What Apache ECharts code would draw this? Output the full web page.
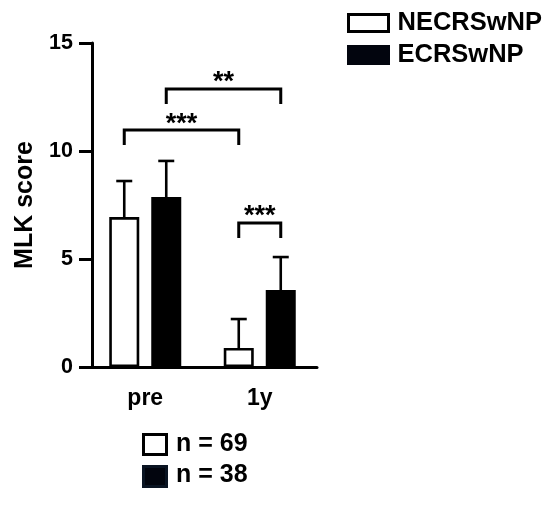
<!DOCTYPE html>
<html><head><meta charset="utf-8">
<script src="https://cdn.jsdelivr.net/npm/echarts@6/dist/echarts.min.js"></script>
<style>html,body{margin:0;padding:0;background:#fff}#c{width:550px;height:506px}</style>
</head><body><div id="c"></div>
<script>
const categories = ['pre', '1y'];
const seriesNames = ['NECRSwNP', 'ECRSwNP'];
const necrsMean = [6.94, 0.88];
const necrsUpper = [8.61, 2.22];
const ecrsMean = [7.87, 3.56];
const ecrsUpper = [9.54, 5.09];
const yTicks = [0, 5, 10, 15];
// significance brackets: [catA, seriesA, catB, seriesB, level, label]
const brackets = [
  [0, 1, 1, 1, 12.87, '**'],
  [0, 0, 1, 0, 10.97, '***'],
  [1, 0, 1, 1, 6.67, '***']
];
const nLabels = ['n = 69', 'n = 38'];

const FONT = '"Liberation Sans", Arial, sans-serif';
const OFF = 21;   // px offset of each bar from category centre
const LEG = 15;   // bracket leg length px

function errorSeries(mean, upper, idx) {
  return {
    type: 'custom', z: 5, silent: true,
    data: categories.map((c, i) => [i, mean[i], upper[i]]),
    encode: { x: 0, y: 2 },
    renderItem(params, api) {
      const i = api.value(0);
      const base = api.coord([i, api.value(1)]);
      const top = api.coord([i, api.value(2)]);
      const x = base[0] + (idx === 0 ? -OFF : OFF);
      const st = { stroke: '#000', lineWidth: 2.6 };
      return { type: 'group', children: [
        { type: 'line', shape: { x1: x, y1: base[1], x2: x, y2: top[1] }, style: st },
        { type: 'line', shape: { x1: x - 8, y1: top[1], x2: x + 8, y2: top[1] }, style: st }
      ]};
    }
  };
}

const chart = echarts.init(document.getElementById('c'), null, { renderer: 'canvas' });
chart.setOption({
  animation: false,
  backgroundColor: '#fff',
  grid: { left: 88, top: 43, width: 229, bottom: 139 },
  legend: {
    orient: 'vertical', left: 342, top: 5, itemWidth: 40, itemHeight: 17, itemGap: 6,
    icon: 'rect', selectedMode: false,
    data: [
      { name: seriesNames[0], itemStyle: { color: '#fff', borderColor: '#000', borderWidth: 3 } },
      { name: seriesNames[1], itemStyle: { color: '#02050e', borderColor: '#02050e', borderWidth: 3 } }
    ],
    textStyle: { fontSize: 25.5, fontWeight: 'bold', fontFamily: FONT, color: '#000', padding: [0, 0, 0, 4], lineHeight: 20 }
  },
  xAxis: {
    type: 'category', data: categories,
    axisLine: { lineStyle: { color: '#000', width: 3 } },
    axisTick: { alignWithLabel: true, length: 13, lineStyle: { color: '#000', width: 3 } },
    axisLabel: { color: '#000', fontSize: 23, fontWeight: 'bold', fontFamily: FONT, margin: 20 }
  },
  yAxis: {
    type: 'value', min: 0, max: 15, interval: 5, offset: -4,
    name: 'MLK score', nameLocation: 'middle', nameRotate: 90, nameGap: 54,
    nameTextStyle: { color: '#000', fontSize: 25, fontWeight: 'bold', fontFamily: FONT },
    axisLine: { show: true, lineStyle: { color: '#000', width: 3 } },
    axisTick: { show: true, length: 13, lineStyle: { color: '#000', width: 3 } },
    axisLabel: { color: '#000', fontSize: 21.5, fontWeight: 'bold', fontFamily: FONT, margin: 19,
      formatter: v => yTicks.includes(v) ? String(v) : '' },
    splitLine: { show: false }
  },
  series: [
    { name: seriesNames[0], type: 'bar', data: necrsMean, barWidth: 30, barGap: '40%',
      itemStyle: { color: '#fff', borderColor: '#000', borderWidth: 2.6 } },
    { name: seriesNames[1], type: 'bar', data: ecrsMean, barWidth: 30, barGap: '40%',
      itemStyle: { color: '#000', borderColor: '#000', borderWidth: 2.6 } },
    errorSeries(necrsMean, necrsUpper, 0),
    errorSeries(ecrsMean, ecrsUpper, 1),
    {
      type: 'custom', z: 6, silent: true,
      data: brackets.map(b => [b[0], b[4]]),
      encode: { x: 0, y: 1 },
      renderItem(params, api) {
        const b = brackets[params.dataIndex];
        const p1 = api.coord([b[0], b[4]]);
        const p2 = api.coord([b[2], b[4]]);
        const x1 = p1[0] + (b[1] ? OFF : -OFF);
        const x2 = p2[0] + (b[3] ? OFF : -OFF);
        const y = p1[1];
        return { type: 'group', children: [
          { type: 'polyline', shape: { points: [[x1, y + LEG], [x1, y], [x2, y], [x2, y + LEG]] },
            style: { stroke: '#000', lineWidth: 3, fill: null } },
          { type: 'text', x: (x1 + x2) / 2, y: y - 6,
            style: { text: b[5], fontSize: 27, fontWeight: 'bold', fontFamily: FONT, fill: '#000',
              align: 'center', verticalAlign: 'middle' } }
        ]};
      }
    }
  ],
  graphic: [
    { type: 'rect', shape: { x: 143.5, y: 434.5, width: 23, height: 20 }, style: { fill: '#fff', stroke: '#000', lineWidth: 3 } },
    { type: 'rect', shape: { x: 143.5, y: 466.5, width: 23, height: 20 }, style: { fill: '#02050e', stroke: '#0a1422', lineWidth: 3 } },
    { type: 'text', x: 176, y: 444, style: { text: nLabels[0], fontSize: 25, fontWeight: 'bold', fontFamily: FONT, fill: '#000', verticalAlign: 'middle' } },
    { type: 'text', x: 176, y: 475, style: { text: nLabels[1], fontSize: 25, fontWeight: 'bold', fontFamily: FONT, fill: '#000', verticalAlign: 'middle' } }
  ]
});
</script>
</body></html>
